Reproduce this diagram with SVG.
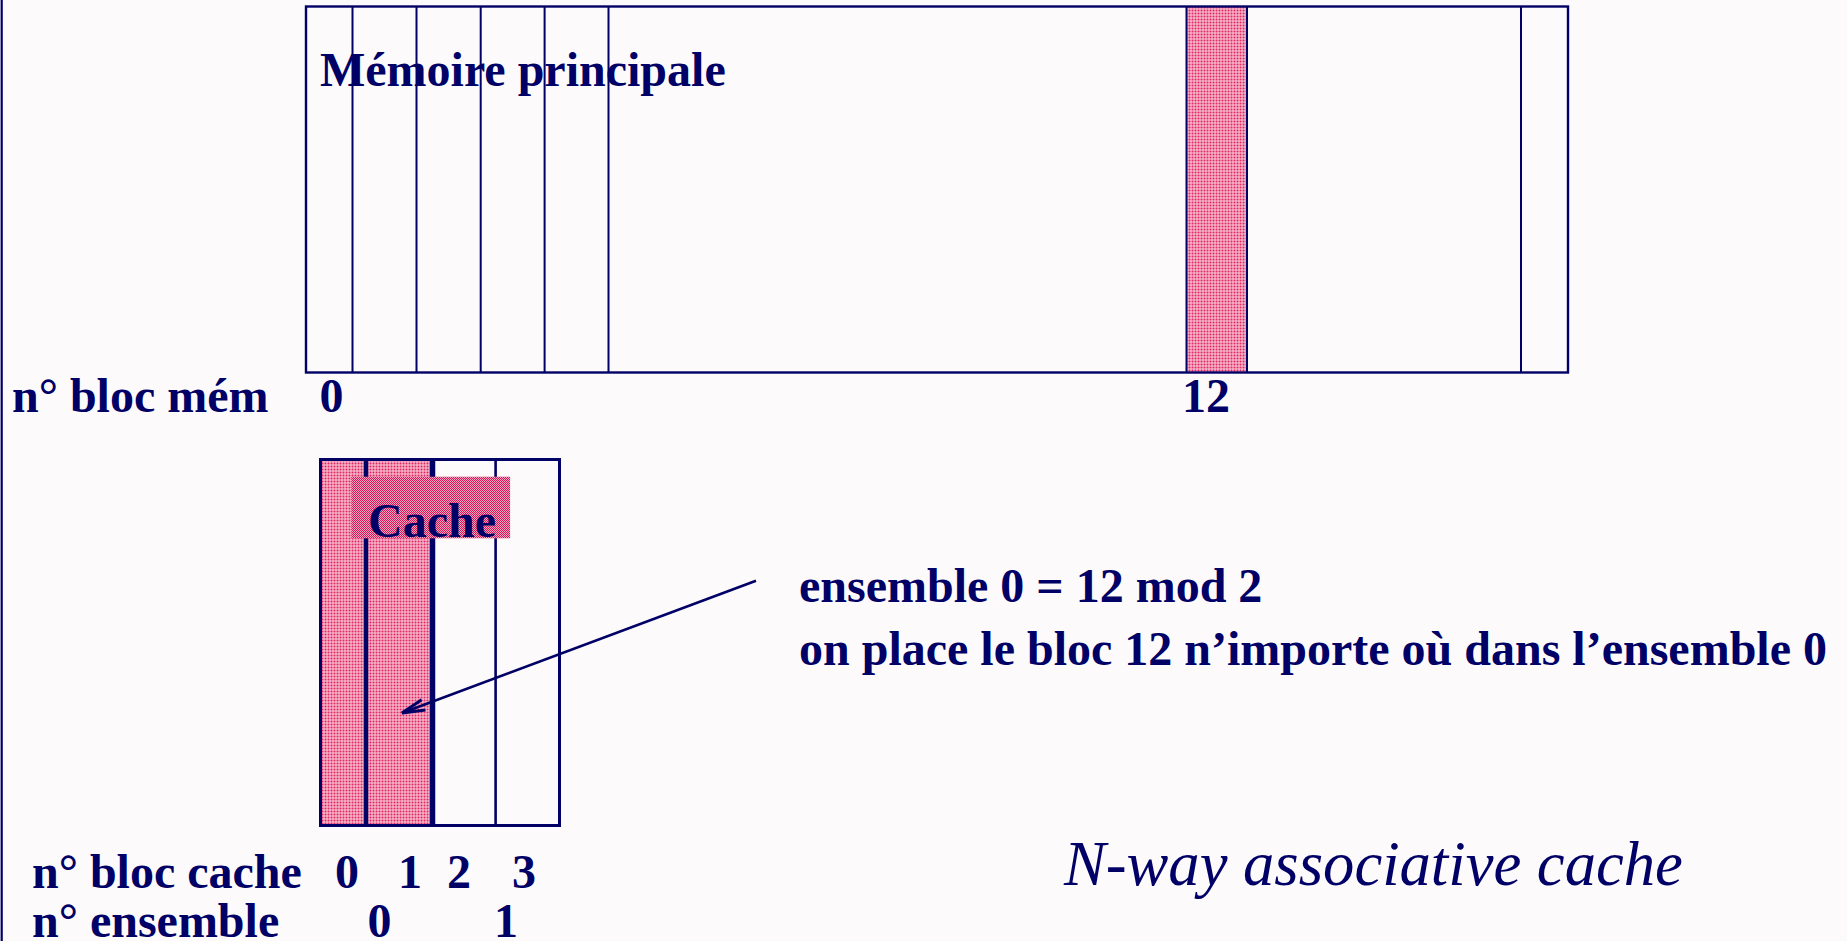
<svg xmlns="http://www.w3.org/2000/svg" width="1847" height="941" viewBox="0 0 1847 941">
  <style>
    .ln { stroke: #000066; fill: none; }
    .t { font-family: "Liberation Serif", "Times New Roman", serif; font-weight: bold; font-size: 48px; fill: #000066; }
    .ti { font-family: "Liberation Serif", "Times New Roman", serif; font-style: italic; font-size: 62.6px; fill: #000066; }
  </style>
  <defs>
    <pattern id="dots" width="3" height="3" patternUnits="userSpaceOnUse">
      <rect width="3" height="3" fill="#F9D3E1"/>
      <rect x="0.5" y="0.5" width="2" height="2" fill="#E2245F"/>
    </pattern>
    <pattern id="check" width="2" height="2" patternUnits="userSpaceOnUse">
      <rect width="2" height="2" fill="#F3A8C1"/>
      <rect x="0" y="0" width="1" height="1" fill="#DA1456"/>
      <rect x="1" y="1" width="1" height="1" fill="#DA1456"/>
    </pattern>
    <marker id="openArrow" markerUnits="userSpaceOnUse" markerWidth="30" markerHeight="20" refX="24" refY="8" orient="auto" viewBox="0 0 30 16">
      <path d="M1,2.5 L24,8 L1,13.5" fill="none" stroke="#000066" stroke-width="3"/>
    </marker>
  </defs>
  <rect width="1847" height="941" fill="#FDFAFC"/>
  <line class="ln" x1="1.7" y1="0" x2="1.7" y2="941" stroke-width="2.2"/>

  <g id="memory">
    <rect x="1187" y="7" width="59" height="365" fill="url(#dots)"/>
    <rect class="ln" x="306" y="6.5" width="1262" height="366" stroke-width="2.4"/>
    <g class="ln" stroke-width="2">
      <line x1="352.5" y1="6.5" x2="352.5" y2="372.5"/>
      <line x1="416.5" y1="6.5" x2="416.5" y2="372.5"/>
      <line x1="480.7" y1="6.5" x2="480.7" y2="372.5"/>
      <line x1="544.6" y1="6.5" x2="544.6" y2="372.5"/>
      <line x1="608.5" y1="6.5" x2="608.5" y2="372.5"/>
      <line x1="1186.5" y1="6.5" x2="1186.5" y2="372.5"/>
      <line x1="1247" y1="6.5" x2="1247" y2="372.5"/>
      <line x1="1521" y1="6.5" x2="1521" y2="372.5"/>
    </g>
    <text class="t" x="320" y="86">Mémoire principale</text>
  </g>

  <g id="cache">
    <rect x="321" y="460" width="44" height="365" fill="url(#dots)"/>
    <rect x="368" y="460" width="62" height="365" fill="url(#dots)"/>
    <rect class="ln" x="320.5" y="459.5" width="239" height="366" stroke-width="3"/>
    <line class="ln" x1="366" y1="459.5" x2="366" y2="825.5" stroke-width="4.5"/>
    <line class="ln" x1="432.5" y1="459.5" x2="432.5" y2="825.5" stroke-width="5.5"/>
    <line class="ln" x1="495.6" y1="459.5" x2="495.6" y2="825.5" stroke-width="2.6"/>
    <rect x="351.3" y="476.7" width="158.8" height="61.6" fill="url(#check)"/>
    <text class="t" x="368" y="536.5">Cache</text>
  </g>

  <g id="connectors">
    <line x1="756" y1="580.7" x2="402" y2="713" stroke="#000066" stroke-width="2.6" marker-end="url(#openArrow)"/>
  </g>

  <g id="labels">
    <text class="t" x="12" y="411.7">n° bloc mém</text>
    <text class="t" x="319.5" y="411.7">0</text>
    <text class="t" x="1182" y="411.7">12</text>
    <text class="t" x="32" y="888.3">n° bloc cache</text>
    <text class="t" x="335" y="888.3">0</text>
    <text class="t" x="398" y="888.3">1</text>
    <text class="t" x="447" y="888.3">2</text>
    <text class="t" x="512" y="888.3">3</text>
    <text class="t" x="32" y="936.5">n° ensemble</text>
    <text class="t" x="367.5" y="936.5">0</text>
    <text class="t" x="494" y="936.5">1</text>
    <text class="t" x="799" y="601.7">ensemble 0 = 12 mod 2</text>
    <text class="t" x="799" y="665">on place le bloc 12 n’importe où dans l’ensemble 0</text>
    <text class="ti" x="1064" y="885">N-way associative cache</text>
  </g>
</svg>
